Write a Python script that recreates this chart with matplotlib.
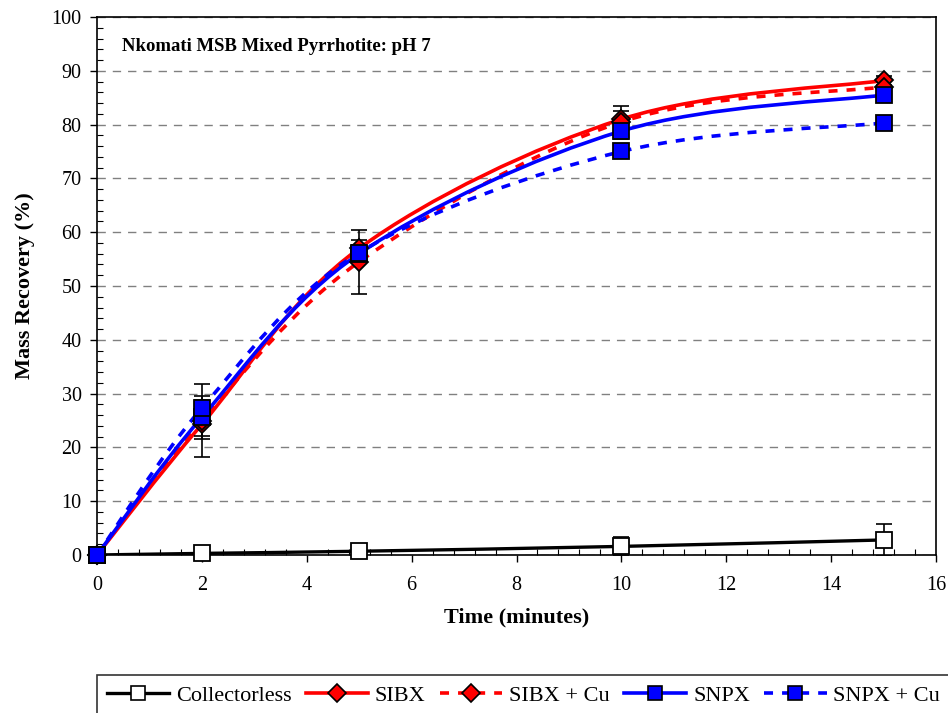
import matplotlib
matplotlib.use("Agg")
import matplotlib.pyplot as plt
from matplotlib.path import Path
from matplotlib.patches import PathPatch
from matplotlib.lines import Line2D
from matplotlib.ticker import MultipleLocator

plt.rcParams['font.family'] = ['Liberation Serif', 'DejaVu Serif']

# Flotation time (minutes)
time = [0, 2, 5, 10, 15]

# Mass recovery (%) per reagent scheme
collectorless = [0.0, 0.3, 0.7, 1.6, 2.8]
sibx = [0.0, 24.3, 57.0, 81.0, 88.2]
sibx_cu = [0.0, 25.0, 54.5, 80.5, 87.0]
snpx = [0.0, 25.6, 56.0, 78.8, 85.5]
snpx_cu = [0.0, 27.3, 56.2, 75.0, 80.3]

# Standard deviations
err_collectorless = [0.0, 0.3, 0.3, 1.7, 3.0]
err_sibx = [0.0, 2.2, 1.5, 1.5, 0.8]
err_sibx_cu = [0.0, 6.7, 5.9, 2.9, 1.2]
err_snpx = [0.0, 4.0, 1.5, 1.5, 1.0]
err_snpx_cu = [0.0, 1.5, 1.5, 1.2, 1.0]

series = [
    ("Collectorless", collectorless, err_collectorless, "black", "-", "s", "white"),
    ("SIBX", sibx, err_sibx, "#ff0000", "-", "D", "#ff0000"),
    ("SIBX + Cu", sibx_cu, err_sibx_cu, "#ff0000", (0, (2.5, 2.5)), "D", "#ff0000"),
    ("SNPX", snpx, err_snpx, "#0000ff", "-", "s", "#0000ff"),
    ("SNPX + Cu", snpx_cu, err_snpx_cu, "#0000ff", (0, (2.5, 2.5)), "s", "#0000ff"),
]


def smooth_path(xs, ys):
    # Catmull-Rom style smoothing expressed as cubic Bezier segments
    pts = list(zip(xs, ys))
    n = len(pts)
    verts = [pts[0]]
    codes = [Path.MOVETO]
    for i in range(n - 1):
        p0 = pts[i - 1] if i > 0 else pts[i]
        p1 = pts[i]
        p2 = pts[i + 1]
        p3 = pts[i + 2] if i + 2 < n else pts[i + 1]
        c1 = (p1[0] + (p2[0] - p0[0]) / 6, p1[1] + (p2[1] - p0[1]) / 6)
        c2 = (p2[0] - (p3[0] - p1[0]) / 6, p2[1] - (p3[1] - p1[1]) / 6)
        verts += [c1, c2, p2]
        codes += [Path.CURVE4] * 3
    return Path(verts, codes)


fig = plt.figure(figsize=(9.48, 7.13), dpi=100)
ax = fig.add_axes([97 / 948, 1 - 555 / 713, (936 - 97) / 948, (555 - 17) / 713])

ax.set_xlim(0, 16)
ax.set_ylim(0, 100)
ax.xaxis.set_major_locator(MultipleLocator(2))
ax.xaxis.set_minor_locator(MultipleLocator(0.4))
ax.yaxis.set_major_locator(MultipleLocator(10))
ax.yaxis.set_minor_locator(MultipleLocator(2))
ax.tick_params(which='major', direction='out', length=5, width=1, labelsize=14.5, colors='black')
ax.tick_params(axis='x', which='major', pad=10)
ax.tick_params(axis='y', which='major', pad=6)
ax.tick_params(which='minor', direction='in', length=4, width=0.8)
for sp in ax.spines.values():
    sp.set_linewidth(1.2)

ax.yaxis.grid(True, which='major', linestyle=(0, (6, 5)), color='#808080', linewidth=1)
ax.set_axisbelow(True)

handles = []
for name, vals, errs, color, ls, mk, fc in series:
    lw = 2.6 if name != "Collectorless" else 2.4
    patch = PathPatch(smooth_path(time, vals), facecolor='none', edgecolor=color,
                      linewidth=lw, linestyle=ls, capstyle='butt', zorder=3)
    ax.add_patch(patch)
    ms = 11 if mk == "s" else 9
    ax.errorbar(time, vals, yerr=errs, fmt='none', ecolor='black', elinewidth=1.2,
                capsize=6, capthick=1.2, zorder=4)
    ax.plot(time, vals, linestyle='none', marker=mk, markersize=ms, markerfacecolor=fc,
            markeredgecolor='black', markeredgewidth=1.3, zorder=5, clip_on=False)
    handles.append(Line2D([], [], color=color, linestyle=ls, linewidth=lw, marker=mk,
                          markersize=10 if mk == "s" else 9, markerfacecolor=fc,
                          markeredgecolor='black', markeredgewidth=1.2))

ax.text(0.48, 94.6, "Nkomati MSB Mixed Pyrrhotite: pH 7", fontsize=13.5, fontweight='bold',
        ha='left', va='center')
ax.set_xlabel("Time (minutes)", fontsize=16, fontweight='bold', labelpad=9)
ax.set_ylabel("Mass Recovery (%)", fontsize=16, fontweight='bold', labelpad=12)

leg = fig.legend(handles, [s[0] for s in series], loc='upper left', ncol=5,
                 bbox_to_anchor=(97 / 948, 0.0, (950 - 97) / 948, (713 - 675) / 713),
                 mode='expand', fontsize=16, frameon=True, fancybox=False, edgecolor='black',
                 handlelength=2.8, handletextpad=0.3, columnspacing=1.0, borderaxespad=0,
                 borderpad=0.45)
leg.get_frame().set_linewidth(1.2)

fig.savefig("out.png", dpi=100, facecolor='white')
